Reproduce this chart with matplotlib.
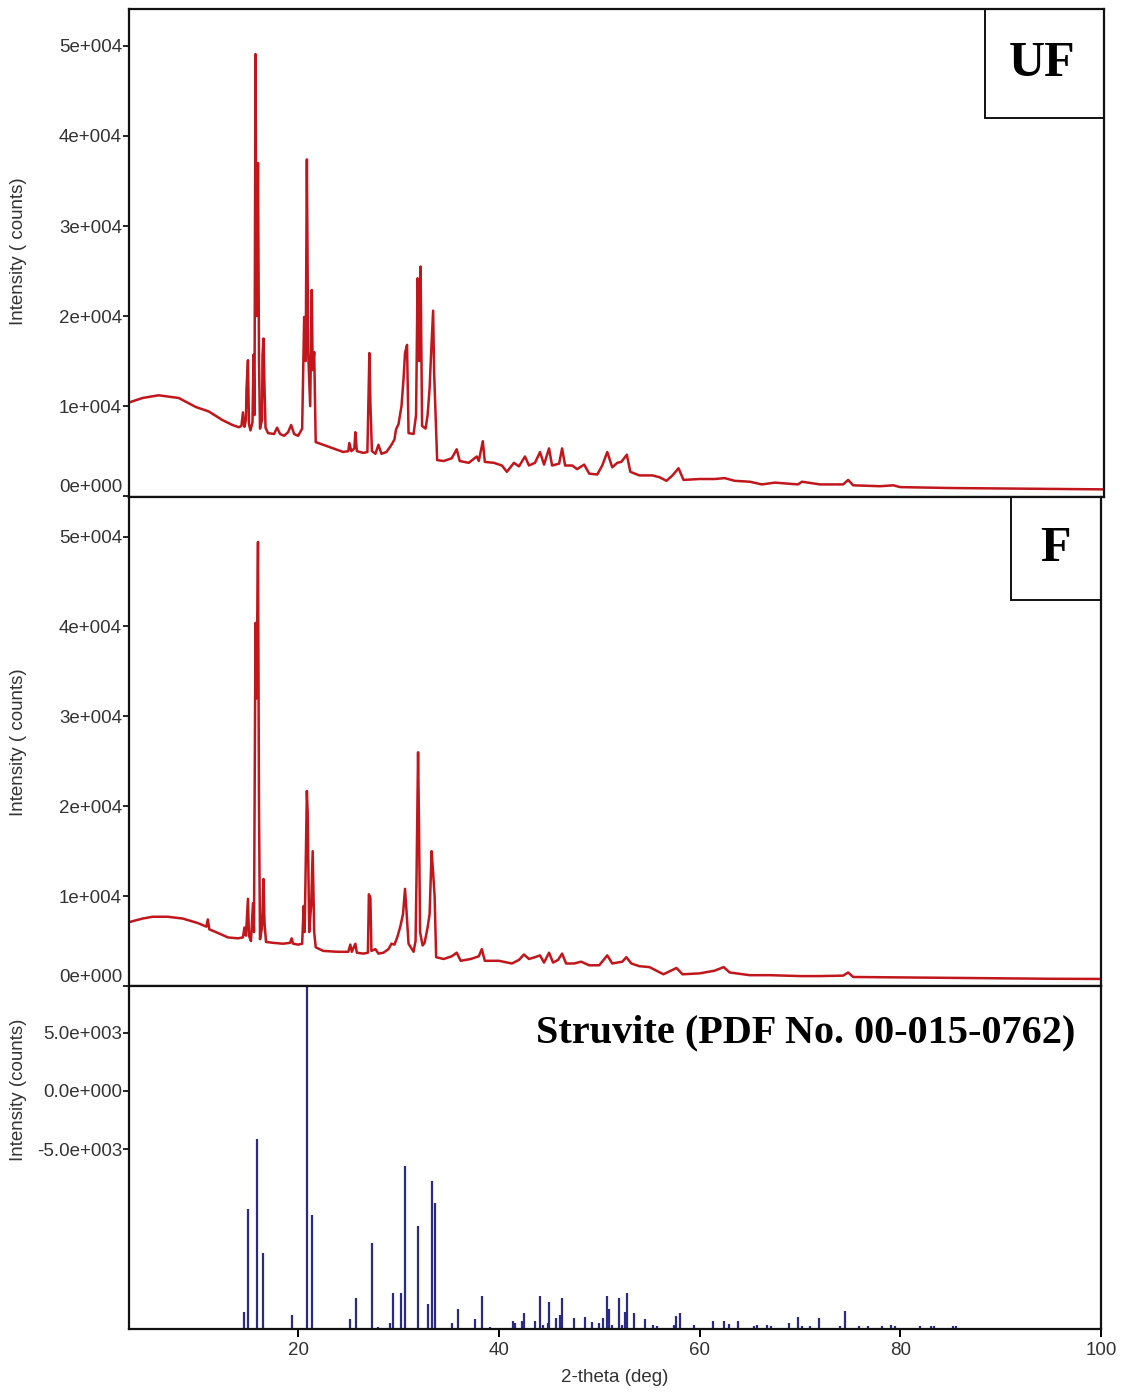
import matplotlib
matplotlib.use('Agg')
import matplotlib.pyplot as plt
import numpy as np

plt.rcParams['font.family'] = ['Liberation Sans', 'DejaVu Sans']

# UF sample pattern (2-theta deg, counts)
uf_x = [3.15, 4.5, 6.1, 8.1, 9.8, 11.1, 12.45, 13.45, 14.1,
        14.35, 14.5, 14.65, 14.8, 14.85, 15.0, 15.1, 15.25, 15.45, 15.55, 15.65, 15.75, 15.85, 16.0, 16.1, 16.2,
        16.4, 16.45, 16.55, 16.65, 16.75, 17.0, 17.6, 17.9, 18.2, 18.6, 19.0, 19.3, 19.6, 20.0, 20.4, 20.6,
        20.75, 20.87, 21.0, 21.2, 21.36, 21.45, 21.6, 21.75, 22.5, 23.5, 24.5, 25.0, 25.1, 25.3, 25.6, 25.7,
        25.85, 26.5, 26.9, 27.0, 27.1, 27.2, 27.35, 27.7, 28.0, 28.3, 28.8, 29.3, 29.6, 29.75, 30.0, 30.3,
        30.5, 30.65, 30.85, 31.0, 31.5, 31.75, 31.9, 32.05, 32.2, 32.35, 32.7, 32.9, 33.1, 33.25, 33.45, 33.55,
        33.7, 33.85, 34.5, 35.3, 35.8, 36.1, 37.0, 37.8, 38.0, 38.4, 38.6, 39.5, 40.3, 40.8, 41.5, 42.0, 42.6,
        43.0, 43.6, 44.1, 44.5, 45.0, 45.3, 46.0, 46.3, 46.6, 47.3, 47.8, 48.5, 49.0, 49.8, 50.3, 50.8, 51.3,
        51.8, 52.2, 52.75, 53.1, 54.0, 55.3, 56.0, 56.7, 57.3, 57.9, 58.4, 60.0, 61.5, 62.5, 63.5, 65.0, 66.2,
        67.5, 69.8, 70.2, 72.0, 74.3, 74.8, 75.3, 78.0, 79.3, 80.0, 85.0, 90.0, 95.0, 100.3]
uf_y = [10400, 10900, 11200, 10900, 9900, 9400, 8450, 7900, 7650,
        7800, 9300, 7700, 8500, 11800, 15100, 8000, 7300, 8200, 15700, 9000, 49100, 20000, 37000, 15000, 7500,
        8500, 15700, 17500, 12000, 7600, 7000, 6900, 7600, 6900, 6700, 7100, 7900, 6900, 6700, 7500, 19900,
        15000, 37400, 16000, 10000, 22900, 14000, 16000, 6000, 5700, 5300, 4900, 5000, 5900, 5000, 5300, 7100,
        5000, 4800, 4900, 10500, 15900, 10300, 5000, 4700, 5700, 4700, 4900, 5700, 6300, 7400, 8000, 10000,
        13000, 15900, 16800, 7000, 6900, 9000, 24200, 15000, 25500, 7800, 7500, 9000, 12000, 15900, 20600, 13700,
        8800, 4000, 3900, 4200, 5200, 3900, 3700, 4400, 3900, 6100, 3800, 3700, 3400, 2700, 3700, 3300, 4400,
        3400, 3700, 4900, 3500, 5300, 3400, 3600, 5300, 3400, 3400, 3000, 3500, 2500, 2400, 3400, 4900, 3200,
        3700, 3800, 4600, 2700, 2300, 2300, 2100, 1700, 2300, 3100, 1800, 1900, 1900, 2000, 1700, 1600, 1300,
        1500, 1300, 1600, 1300, 1300, 1800, 1200, 1100, 1200, 1000, 900, 850, 800, 750]

# F sample pattern
f_x = [3.15, 4.5, 5.5, 7.0, 8.5, 10.0, 10.85, 11.0, 11.15, 12.0, 13.0, 14.0, 14.5, 14.65, 14.8, 15.0, 15.1,
       15.3, 15.5, 15.6, 15.75, 15.85, 16.0, 16.1, 16.2, 16.4, 16.55, 16.65, 16.8, 17.5, 18.5, 19.2, 19.35,
       19.5, 20.0, 20.4, 20.55, 20.65, 20.87, 20.95, 21.1, 21.3, 21.45, 21.6, 21.75, 22.5, 24.0, 25.0, 25.2,
       25.35, 25.7, 25.85, 26.5, 26.95, 27.05, 27.2, 27.3, 27.7, 28.0, 28.5, 29.0, 29.3, 29.6, 29.9, 30.2,
       30.45, 30.65, 30.8, 31.0, 31.5, 31.7, 31.8, 31.95, 32.05, 32.15, 32.4, 32.6, 32.9, 33.1, 33.3, 33.45,
       33.6, 33.75, 34.5, 35.3, 35.8, 36.2, 37.2, 38.0, 38.3, 38.6, 40.0, 41.3, 42.0, 42.5, 43.0, 43.6, 44.1,
       44.5, 45.0, 45.4, 45.9, 46.3, 46.7, 47.5, 48.2, 49.0, 50.0, 50.8, 51.3, 51.8, 52.3, 52.7, 53.2, 54.0,
       55.0, 56.4, 57.7, 58.3, 60.0, 61.5, 62.4, 63.0, 65.0, 67.0, 70.0, 72.0, 74.3, 74.8, 75.3, 80.0, 85.0,
       90.0, 95.0, 100.0]
f_y = [7100, 7500, 7700, 7700, 7500, 7000, 6600, 7400, 6300, 5900, 5400, 5300, 5400, 6500, 5600, 9700, 5600,
       5000, 9200, 6000, 40400, 32000, 49400, 20000, 5200, 6500, 11900, 7000, 4900, 4800, 4700, 4800, 5300,
       4700, 4600, 4700, 8900, 6000, 21700, 19300, 6000, 9000, 15000, 6000, 4300, 3900, 3800, 3800, 4600,
       3800, 4700, 3700, 3600, 3700, 10200, 9800, 3900, 4100, 3600, 3700, 4100, 4700, 4600, 5500, 6700,
       8000, 10800, 8300, 4700, 3800, 5000, 12400, 26000, 17300, 6000, 4500, 4800, 6500, 8000, 15000, 12600,
       10000, 3200, 3000, 3300, 3700, 2800, 3000, 3300, 4100, 2800, 2800, 2500, 2900, 3500, 3000, 3200, 3400,
       2600, 3700, 2600, 2900, 3600, 2500, 2500, 2700, 2300, 2300, 3400, 2500, 2600, 2700, 3200, 2500, 2200,
       2100, 1300, 2000, 1300, 1400, 1700, 2100, 1500, 1200, 1200, 1100, 1100, 1150, 1500, 1000, 950, 900,
       850, 800, 780]

# Struvite reference lines (PDF 00-015-0762)
ref_x = [14.65, 15.01, 15.94, 16.54, 19.37, 20.9, 21.43, 25.19, 25.79, 27.31, 28.0, 29.17, 29.5, 30.27,
         30.67, 31.99, 32.89, 33.29, 33.66, 35.33, 35.92, 37.64, 38.36, 39.1, 41.38, 41.63, 42.33, 42.51,
         43.64, 44.06, 44.44, 44.86, 44.99, 45.70, 46.12, 46.33, 47.50, 48.55, 49.26, 50.02, 50.40, 50.82,
         50.95, 51.3, 52.0, 52.3, 52.53, 52.74, 53.46, 54.60, 55.34, 55.76, 57.45, 57.66, 58.0, 59.46, 61.35,
         62.48, 62.90, 63.83, 65.42, 65.71, 66.68, 67.10, 68.9, 69.82, 70.25, 70.96, 71.92, 74.02, 74.53,
         75.91, 76.75, 78.22, 79.06, 79.5, 82.0, 83.06, 83.4, 85.26, 85.55]
ref_y = [-19030, -10200, -4160, -13940, -19310, 12000, -10690, -19650, -17870, -13130, -20300, -19970,
         -17390, -17390, -6440, -11640, -18360, -7760, -9680, -19970, -18820, -19650, -17670, -20300, -19800,
         -19970, -19800, -19160, -19800, -17670, -20170, -19970, -18160, -19560, -19310, -17870, -19560,
         -19450, -19940, -19970, -19560, -17670, -18820, -20200, -17870, -20200, -19010, -17390, -19160,
         -19650, -20170, -20250, -20170, -19390, -19160, -20170, -19800, -19800, -20080, -19800, -20260,
         -20170, -20170, -20250, -19970, -19450, -20260, -20250, -19560, -20260, -18970, -20260, -20260,
         -20260, -20170, -20250, -20250, -20260, -20260, -20250, -20250]

red = '#c0161c'
navy = '#2b2b86'
txt = '#333333'

fig = plt.figure(figsize=(11.22, 13.93), dpi=100)
ax1 = fig.add_axes([0.115, 0.6432, 0.869, 0.3503])
ax2 = fig.add_axes([0.115, 0.2922, 0.8663, 0.351])
ax3 = fig.add_axes([0.115, 0.0459, 0.8663, 0.2463])

ax1.plot(uf_x, uf_y, color=red, lw=1.8)
ax2.plot(f_x, f_y, color=red, lw=1.8)
ax3.vlines(ref_x, -20517, ref_y, color=navy, lw=1.6)

ax1.set_xlim(3.15, 100.3)
ax1.set_ylim(-100, 54100)
ax2.set_xlim(3.15, 100.0)
ax2.set_ylim(0, 54400)
ax3.set_xlim(3.15, 100.0)
ax3.set_ylim(-20517, 9052)

for ax in (ax1, ax2):
    ax.set_yticks([0, 10000, 20000, 30000, 40000, 50000])
    ax.set_yticklabels(['0e+000', '1e+004', '2e+004', '3e+004', '4e+004', '5e+004'])
    ax.set_xticks([])
    ax.get_yticklabels()[0].set_va('bottom')
    ax.set_ylabel('Intensity ( counts)', fontsize=13.5, color=txt)

ax3.set_yticks([5000, 0, -5000])
ax3.set_yticklabels(['5.0e+003', '0.0e+000', '-5.0e+003'])
ax3.set_xticks([20, 40, 60, 80, 100])
ax3.set_xlabel('2-theta (deg)', fontsize=13.5, color=txt, labelpad=7)
ax3.set_ylabel('Intensity (counts)', fontsize=13.5, color=txt)

ax1.yaxis.set_label_coords(-0.105, 0.504)
ax2.yaxis.set_label_coords(-0.105, 0.499)
ax3.yaxis.set_label_coords(-0.105, 0.697)

for ax in (ax1, ax2, ax3):
    ax.tick_params(axis='y', direction='out', length=4, width=1.2, labelsize=13.5, labelcolor=txt, pad=1)
    ax.tick_params(axis='x', direction='out', length=5.5, width=1.4, labelsize=13.5, labelcolor=txt, pad=4)
    for s in ax.spines.values():
        s.set_linewidth(1.6)
        s.set_color('#111111')

# sample label boxes
ax1.add_patch(plt.Rectangle((0.878, 0.7766), 0.122, 0.2234, transform=ax1.transAxes,
                            fill=False, lw=1.4, ec='#111111'))
ax1.text(0.936, 0.888, 'UF', transform=ax1.transAxes, ha='center', va='center',
         fontsize=36, fontweight='bold', family='Liberation Serif')
ax2.add_patch(plt.Rectangle((0.907, 0.789), 0.093, 0.211, transform=ax2.transAxes,
                            fill=False, lw=1.4, ec='#111111'))
ax2.text(0.9535, 0.8945, 'F', transform=ax2.transAxes, ha='center', va='center',
         fontsize=36, fontweight='bold', family='Liberation Serif')
ax3.text(0.974, 0.862, 'Struvite (PDF No. 00-015-0762)', transform=ax3.transAxes, ha='right',
         va='center', fontsize=29, fontweight='bold', family='Liberation Serif')

plt.savefig('out.png', dpi=100)
